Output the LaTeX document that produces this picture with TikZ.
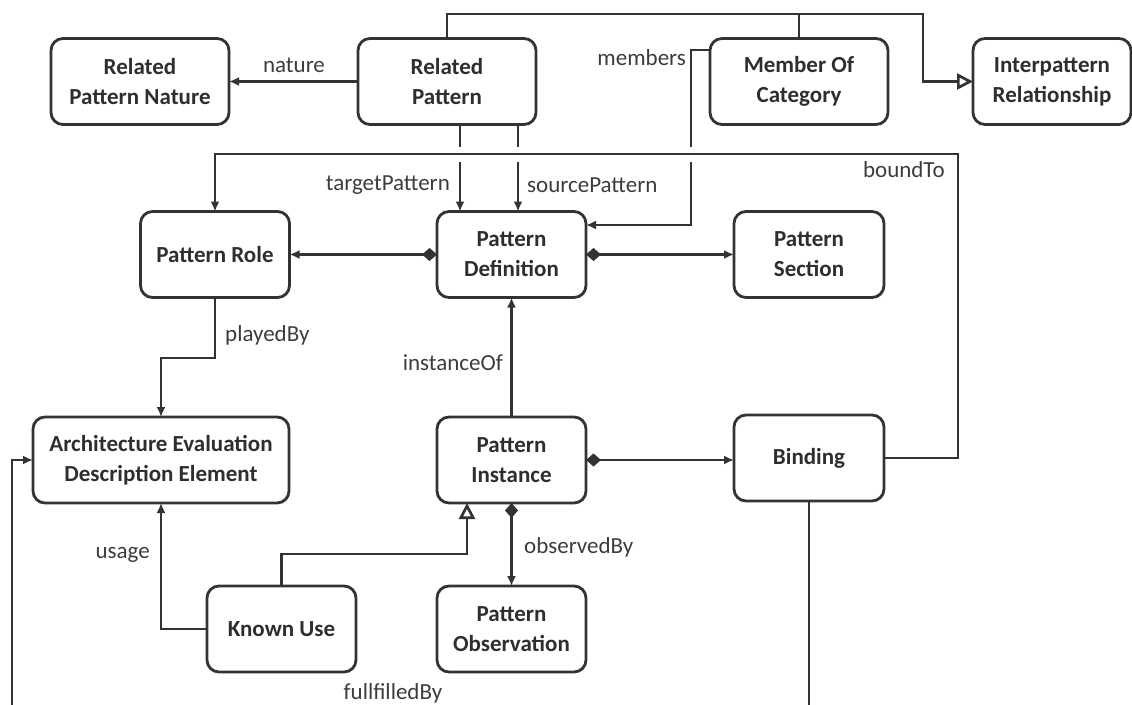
\documentclass[tikz,border=0pt]{standalone}
\usepackage{fontspec}
\setmainfont{Carlito}
\usetikzlibrary{arrows.meta}
\definecolor{ln}{HTML}{333333}
\definecolor{tx}{HTML}{2E2E2E}
\definecolor{lb}{HTML}{3C3C3C}
\tikzset{
  box/.style={draw=ln, line width=2.8pt, rounded corners=12pt, align=center,
    inner sep=0pt, outer sep=0pt, minimum height=86pt, text=tx,
    font=\bfseries\fontsize{23}{30}\selectfont},
  lbl/.style={text=lb, inner sep=0pt, font=\fontsize{23}{28}\selectfont},
  conn/.style={draw=ln, line width=2.7pt},
  arr/.style={conn, -{Latex[length=10pt,width=9pt]}},
  comp/.style={conn, {Diamond[length=15pt,width=13pt]}-{Latex[length=10pt,width=9pt]}},
  gen/.style={conn, -{Triangle[open,length=16pt,width=16pt,fill=white]}},
}
\begin{document}
\begin{tikzpicture}[x=1pt,y=-1pt]
\useasboundingbox (0,0) rectangle (1132,704);
\clip (0,0) rectangle (1132,704);
% nodes
\node[box, minimum width=178pt] (RPN) at (140,81.5) {Related\\Pattern Nature};
\node[box, minimum width=178pt] (RP) at (447,81.5) {Related\\Pattern};
\node[box, minimum width=178pt] (MOC) at (799,81.5) {Member Of\\Category};
\node[box, minimum width=158pt] (IR) at (1052,81.5) {Interpattern\\Relationship};
\node[box, minimum width=149pt] (PR) at (215,254.5) {Pattern Role};
\node[box, minimum width=149pt] (PD) at (511.5,254.5) {Pattern\\Definition};
\node[box, minimum width=150pt] (PS) at (809,254.5) {Pattern\\Section};
\node[box, minimum width=256pt] (ADE) at (161,460) {Architecture Evaluation\\Description Element};
\node[box, minimum width=149pt] (PI) at (511.5,460) {Pattern\\Instance};
\node[box, minimum width=150pt] (BD) at (809,458) {Binding};
\node[box, minimum width=149pt] (KU) at (281.5,629) {Known Use};
\node[box, minimum width=149pt] (PO) at (511.5,629) {Pattern\\Observation};
% helper coordinates
\coordinate (tp) at (923,14);
\coordinate (t1) at (460,0);
\coordinate (s1) at (518,0);
\coordinate (mb) at (691,50);
\coordinate (mb2) at (691,225);
\coordinate (bt) at (958,154);
\coordinate (pb) at (0,358);
\coordinate (g) at (467,554);
\coordinate (fb) at (12,712);
% connectors
\draw[gen] (RP.north) |- (tp) |- (IR.west);
\draw[conn] (MOC.north) -- (MOC.north |- tp);
\draw[arr] (RP.west) -- (RPN.east);
\draw[arr] (RP.south -| t1) -- (PD.north -| t1);
\draw[arr] (RP.south -| s1) -- (PD.north -| s1);
\draw[arr] (MOC.west |- mb) -- (mb) -- (mb2) -- (PD.east |- mb2);
\draw[white, line width=15pt] (215,154) -- (958,154);
\draw[arr] (BD.east) -| (bt) -| (PR.north);
\draw[comp] (PD.west) -- (PR.east);
\draw[comp] (PD.east) -- (PS.west);
\draw[arr] (PR.south) -- (PR.south |- pb) -| (ADE.north);
\draw[arr] (PI.north) -- (PD.south);
\draw[comp] (PI.east) -- (PI.east -| BD.west);
\draw[comp] (PI.south) -- (PO.north);
\draw[arr] (KU.west) -| (ADE.south);
\draw[gen] (KU.north) |- (g) -- (PI.south -| g);
\draw[arr] (BD.south) |- (fb) |- (ADE.west);
% labels
\node[lbl] (lnat) at (294,65) {nature};
\node[lbl, anchor=east] (ltp) at (450,185) {targetPattern};
\node[lbl, anchor=west] (lsp) at (527,185) {sourcePattern};
\node[lbl, anchor=east] (lmem) at (686,58) {members};
\node[lbl, anchor=east] (lbt) at (945,170) {boundTo};
\node[lbl, anchor=west] (lpb) at (225,335) {playedBy};
\node[lbl, anchor=east] (lio) at (503,363) {instanceOf};
\node[lbl, anchor=east] (lus) at (150,555) {usage};
\node[lbl, anchor=west] (lob) at (524,547) {observedBy};
\node[lbl] (lff) at (393,693) {fullfilledBy};
\end{tikzpicture}
\end{document}
